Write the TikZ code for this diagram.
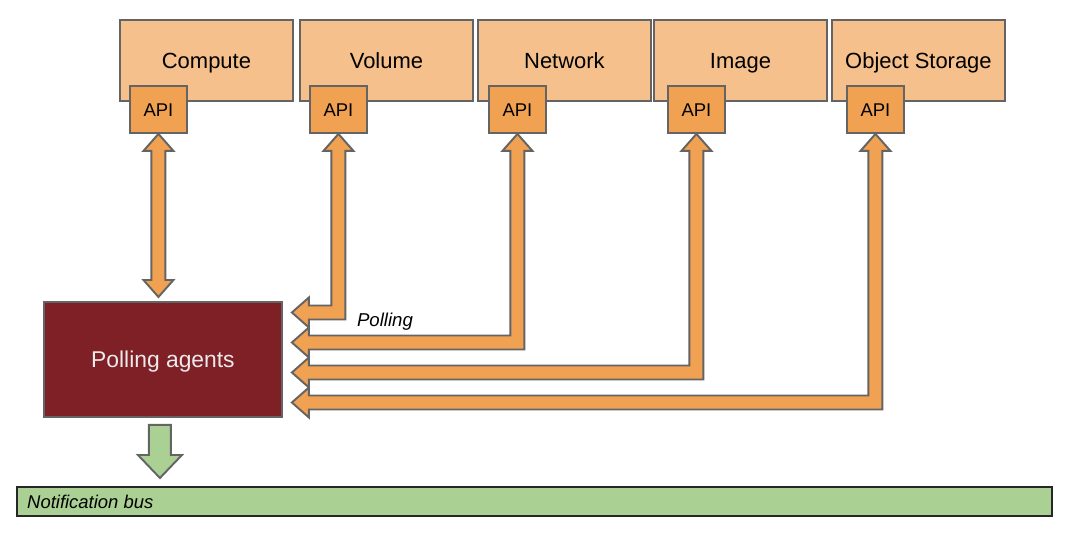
\documentclass[tikz,border=0pt]{standalone}
\usepackage{fontspec}
\setmainfont{Liberation Sans}
\usetikzlibrary{calc,positioning}

\definecolor{svcfill}{RGB}{246,192,140}
\definecolor{apifill}{RGB}{240,161,82}
\definecolor{agentred}{RGB}{127,31,38}
\definecolor{busgreen}{RGB}{170,208,148}
\definecolor{edgegray}{RGB}{100,100,100}

\tikzset{
  service/.style={draw=edgegray, line width=1.1pt, fill=svcfill, inner sep=0pt,
    minimum width=3.46cm, minimum height=1.62cm, anchor=north west,
    text height=9pt, text depth=0pt, font=\fontsize{12.5}{14}\selectfont},
  api/.style={draw=edgegray, line width=1.1pt, fill=apifill, inner sep=0pt,
    minimum width=1.14cm, minimum height=0.94cm, anchor=north west,
    text height=7.5pt, text depth=0pt, font=\fontsize{10.5}{12}\selectfont},
  agentbox/.style={draw=edgegray, line width=1.1pt, fill=agentred, text=white!92!black,
    minimum width=4.76cm, minimum height=2.3cm, anchor=north west,
    text height=9.3pt, text depth=0pt, font=\fontsize{13}{15}\selectfont},
  busbar/.style={draw=black!85, line width=1.2pt, fill=busgreen, inner sep=0pt,
    minimum width=20.7cm, minimum height=0.58cm, anchor=north west},
  fatarrow/.style={draw=edgegray, line width=1.1pt, fill=apifill, line join=miter},
  greenarrow/.style={draw=edgegray, line width=1.1pt, fill=busgreen, line join=miter}
}

% L-shaped double arrow from an API box down and left into the agents
\newcommand\pollarrow[2]{%
        \coordinate (tip) at ($(agents.east |- 0,#2)+(9,0)$);
        \draw[fatarrow] (#1.south) -- ++(15,17) -- ++(-8,0) |- ($(tip)+(17,7)$)
          -- ++(0,8) -- (tip) -- ++(17,-15) -- ++(0,8)
          -| ($(#1.south)+(-7,17)$) -- ++(-8,0) -- cycle;}

\begin{document}
\begin{tikzpicture}[x=0.02cm, y=-0.02cm]
        \useasboundingbox (0,0) rectangle (1080,536);

        \foreach \name/\txt/\bx/\ax in {compute/Compute/119/129, volume/Volume/299/309,
          network/Network/477/488, image/Image/653/667, objstore/Object Storage/831/846}{
          \node[service] (\name) at (\bx,19) {\txt};
          \node[api] (\name api) at (\ax,85) {API};
        }

        \node[agentbox] (agents) at (43,301) {Polling agents};
        \node[busbar, label={[anchor=west, font=\fontsize{10.5}{12}\selectfont\itshape,
          text height=7.5pt, text depth=0pt, xshift=0.1cm]west:Notification bus}] (bus) at (16,486) {};

        % compute talks straight down
        \coordinate (ctip) at ($(computeapi.south |- agents.north)+(0,-4)$);
        \draw[fatarrow] (computeapi.south) -- ++(15,17) -- ++(-8,0) -- ($(ctip)+(7,-17)$)
          -- ++(8,0) -- (ctip) -- ++(-15,-17) -- ++(8,0)
          -- ($(computeapi.south)+(-7,17)$) -- ++(-8,0) -- cycle;

        \pollarrow{volumeapi}{312.5}
        \pollarrow{networkapi}{342.5}
        \pollarrow{imageapi}{372.5}
        \pollarrow{objstoreapi}{402.5}

        \node[font=\fontsize{10.6}{12}\selectfont\itshape] (pollinglbl) at (385,322) {Polling};

        % agents push to the bus
        \coordinate (gtop) at ($(agents.south)+(-3,7)$);
        \coordinate (gtip) at ($(gtop |- bus.north)+(0,-8)$);
        \draw[greenarrow] ($(gtop)+(-11,0)$) -- ++(22,0) -- ($(gtip)+(11,-23)$)
          -- ++(11,0) -- (gtip) -- ++(-22,-23) -- ++(11,0) -- cycle;
\end{tikzpicture}
\end{document}
